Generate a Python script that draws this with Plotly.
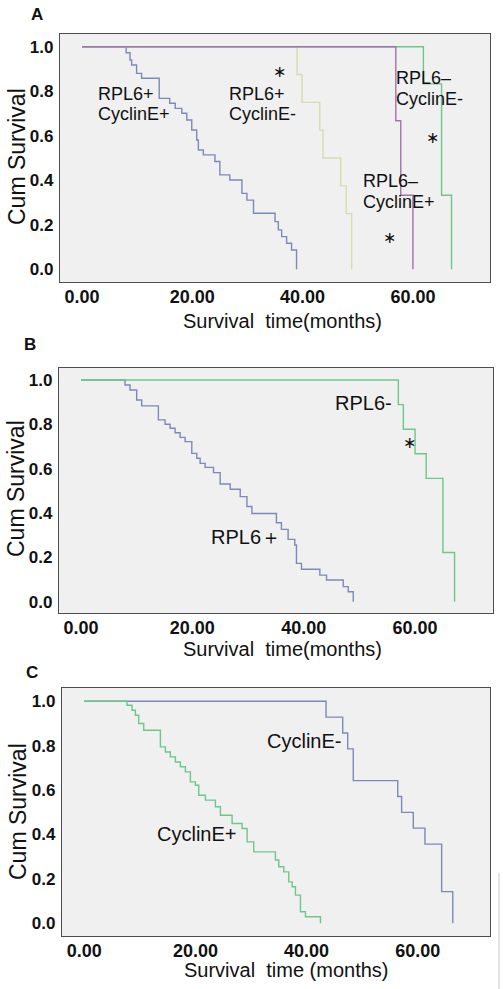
import plotly.graph_objects as go

W, H = 503, 989

# ---------------- DATA ----------------
# Panel A: RPL6 / CyclinE combinations (event times in months, survival after each step)
a_pp_t = [0, 8.0, 8.7, 9.0, 9.9, 10.8, 14.0, 15.9, 16.9, 18.1, 19.0, 19.9, 20.8, 21.1, 22.0,
          24.1, 25.0, 26.8, 29.0, 29.9, 31.1, 35.0, 35.6, 36.2, 37.1, 38.0, 38.9]
a_pp_s = [1.0, 0.973, 0.940, 0.918, 0.880, 0.858, 0.768, 0.746, 0.723, 0.701, 0.671, 0.626, 0.581,
          0.536, 0.514, 0.484, 0.424, 0.401, 0.341, 0.311, 0.252, 0.214, 0.177, 0.147, 0.117, 0.087, 0.0]
a_pm_t = [0, 39.0, 39.9, 43.1, 43.7, 46.9, 47.9, 48.9]
a_pm_s = [1.0, 0.875, 0.75, 0.625, 0.5, 0.375, 0.25, 0.0]
a_mp_t = [0, 56.9, 57.8, 60.0]
a_mp_s = [1.0, 0.667, 0.333, 0.0]
a_mm_t = [0, 61.9, 65.2, 67.0]
a_mm_s = [1.0, 0.833, 0.333, 0.0]

# Panel B: RPL6+ / RPL6-
b_p_t = [0, 7.9, 8.8, 10.0, 10.9, 13.9, 15.1, 16.0, 16.9, 17.8, 18.7, 19.9, 20.8, 21.4, 22.3, 23.8,
         25.0, 26.8, 28.6, 29.8, 30.7, 35.1, 36.0, 37.2, 38.4, 38.7, 39.6, 42.9, 44.1, 47.1, 48.0, 48.9]
b_p_s = [1.0, 0.977, 0.955, 0.910, 0.883, 0.820, 0.800, 0.782, 0.762, 0.741, 0.722, 0.669, 0.647,
         0.624, 0.606, 0.582, 0.531, 0.507, 0.474, 0.429, 0.398, 0.356, 0.326, 0.281, 0.256, 0.173,
         0.146, 0.120, 0.098, 0.068, 0.045, 0.0]
b_m_t = [0, 57.0, 57.9, 60.0, 62.0, 65.0, 67.1]
b_m_s = [1.0, 0.889, 0.778, 0.667, 0.556, 0.222, 0.0]

# Panel C: CyclinE+ / CyclinE-
c_p_t = [0, 7.7, 8.6, 9.2, 9.8, 10.7, 13.7, 14.6, 15.5, 16.4, 17.3, 18.2, 19.1, 20.0, 20.6, 21.8,
         23.6, 24.5, 26.6, 28.4, 29.3, 30.5, 34.4, 35.0, 35.9, 36.8, 37.4, 38.0, 38.9, 39.8, 42.5]
c_p_s = [1.0, 0.982, 0.960, 0.937, 0.900, 0.870, 0.795, 0.772, 0.750, 0.727, 0.705, 0.682, 0.637,
         0.622, 0.577, 0.555, 0.525, 0.487, 0.450, 0.427, 0.367, 0.322, 0.285, 0.255, 0.232, 0.187,
         0.165, 0.127, 0.052, 0.030, 0.0]
c_m_t = [0, 43.5, 46.5, 47.4, 48.4, 56.4, 57.1, 59.2, 61.3, 64.3, 66.3]
c_m_s = [1.0, 0.929, 0.857, 0.786, 0.643, 0.571, 0.5, 0.429, 0.357, 0.143, 0.0]

x_ticks = [0, 20, 40, 60]
y_ticks = [0.0, 0.2, 0.4, 0.6, 0.8, 1.0]

# ---------------- STYLE ----------------
BLUE = "#7d89b9"
YELLOW = "#d8dbb0"
PURPLE = "#a373ab"
GREEN = "#6fc68c"
FONT = "Liberation Sans, Arial, sans-serif"
LW = 1.4

fig = go.Figure()


def step(x, y, color, ax):
    fig.add_trace(go.Scatter(x=x, y=y, mode="lines", line=dict(color=color, width=LW, shape="hv"),
                             xaxis="x" + ax, yaxis="y" + ax, showlegend=False, hoverinfo="skip"))


# Panel A (order: blue, yellow, green, purple)
step(a_pp_t, a_pp_s, BLUE, "")
step(a_pm_t, a_pm_s, YELLOW, "")
step(a_mm_t, a_mm_s, GREEN, "")
step(a_mp_t, a_mp_s, PURPLE, "")
# Panel B
step(b_p_t, b_p_s, BLUE, "2")
step(b_m_t, b_m_s, GREEN, "2")
# Panel C
step(c_m_t, c_m_s, BLUE, "3")
step(c_p_t, c_p_s, GREEN, "3")


def px2paper(px, py):
    return px / W, 1 - py / H


def axis_pair(xdom_px, ydom_px, xr, yr):
    xd = [xdom_px[0] / W, xdom_px[1] / W]
    yd = [1 - ydom_px[1] / H, 1 - ydom_px[0] / H]
    common = dict(showgrid=False, zeroline=False, showline=True, mirror=True, linecolor="#4d4d4d",
                  linewidth=1.2, ticks="")
    xa = dict(domain=xd, range=xr, tickvals=x_ticks, tickformat=".2f", ticklabelstandoff=-2,
              tickfont=dict(family=FONT, size=18, color="#111", weight="bold"), **common)
    ya = dict(domain=yd, range=yr, tickvals=y_ticks, tickformat=".1f", ticklabelstandoff=2,
              tickfont=dict(family=FONT, size=17, color="#111", weight="bold"), **common)
    return xa, ya


xa1, ya1 = axis_pair((60, 490), (34, 282), [-3.99, 73.98], [-0.057, 1.057])
xa2, ya2 = axis_pair((59, 493), (368, 613), [-3.95, 74.0], [-0.051, 1.054])
xa3, ya3 = axis_pair((62, 490), (688, 936), [-4.0, 73.0], [-0.057, 1.060])
ya1["anchor"] = "x"; xa1["anchor"] = "y"
ya2["anchor"] = "x2"; xa2["anchor"] = "y2"
ya3["anchor"] = "x3"; xa3["anchor"] = "y3"

ann = []


def txt(text, x, y, ax, size=18, xanchor="left"):
    ann.append(dict(text=text, x=x, y=y, xref="x" + ax, yref="y" + ax, showarrow=False,
                    xanchor=xanchor, yanchor="middle", font=dict(family=FONT, size=size, color="#111")))


def ptxt(text, px, py, size=18, angle=0, bold=False):
    x, y = px2paper(px, py)
    ann.append(dict(text=text, x=x, y=y, xref="paper", yref="paper", showarrow=False,
                    xanchor="center", yanchor="middle", textangle=angle,
                    font=dict(family=FONT, size=size, color="#111", weight="bold" if bold else "normal")))


STAR = "∗"
# Panel A labels
txt("RPL6+", 2.5, 0.788, "")
txt("CyclinE+", 2.5, 0.696, "")
txt("RPL6+", 26.3, 0.788, "")
txt("CyclinE-", 26.3, 0.696, "")
txt("RPL6–", 56.6, 0.859, "")
txt("CyclinE-", 56.6, 0.765, "")
txt("RPL6–", 50.6, 0.397, "")
txt("CyclinE+", 50.6, 0.302, "")
txt(STAR, 35.9, 0.890, "", size=16, xanchor="center")
txt(STAR, 63.5, 0.594, "", size=16, xanchor="center")
txt(STAR, 55.7, 0.145, "", size=16, xanchor="center")
# Panel B labels
txt("RPL6-", 45.3, 0.898, "2", size=20)
txt("RPL6＋", 23.0, 0.290, "2", size=20)
txt(STAR, 59.0, 0.716, "2", size=16, xanchor="center")
# Panel C labels
txt("CyclinE-", 32.5, 0.822, "3", size=20)
txt("CyclinE+", 12.7, 0.402, "3", size=20)

# Panel letters
ptxt("A", 37, 14, size=17, bold=True)
ptxt("B", 30, 345, size=17, bold=True)
ptxt("C", 32, 672, size=17, bold=True)

# Axis titles
ptxt("Cum Survival", 17, 157, size=23, angle=-90)
ptxt("Cum Survival", 16, 489, size=23, angle=-90)
ptxt("Cum Survival", 18, 812, size=23, angle=-90)
ptxt("Survival  time(months)", 282, 321, size=20)
ptxt("Survival  time(months)", 282, 649, size=20)
ptxt("Survival  time (months)", 286, 970, size=20)

shapes = [dict(type="line", xref="paper", yref="paper", x0=499 / W, x1=499 / W, y0=1 - 873 / H, y1=0,
               line=dict(color="#c8c8c8", width=1))]

fig.update_layout(
    width=W, height=H, margin=dict(l=0, r=0, t=0, b=0),
    paper_bgcolor="white", plot_bgcolor="#f0f0f0",
    xaxis=xa1, yaxis=ya1, xaxis2=xa2, yaxis2=ya2, xaxis3=xa3, yaxis3=ya3,
    annotations=ann, shapes=shapes, showlegend=False,
)

fig.write_html("out.html", config={"displayModeBar": False},
               post_script="document.body.style.margin='0';document.body.style.overflow='hidden';")
